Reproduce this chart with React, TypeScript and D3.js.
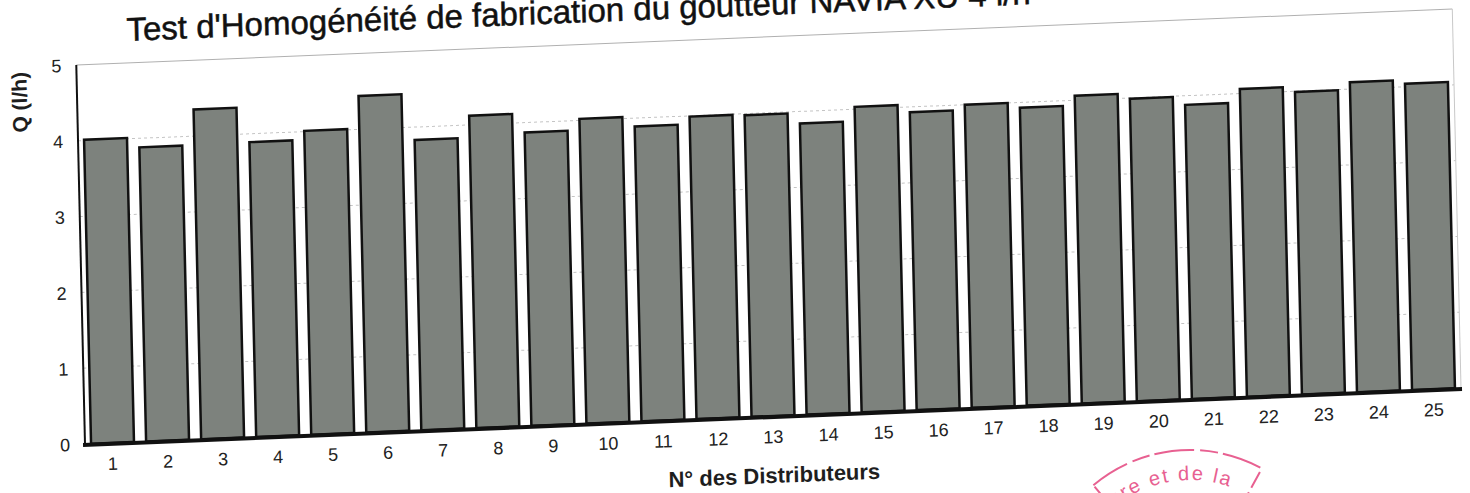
import React from 'react';
import * as d3 from 'd3';

// N° des distributeurs (goutteurs) and measured flow Q (l/h)
const distributeurs = ['1', '2', '3', '4', '5', '6', '7', '8', '9', '10', '11', '12', '13',
  '14', '15', '16', '17', '18', '19', '20', '21', '22', '23', '24', '25'];
const debits = [4.01, 3.88, 4.35, 3.89, 4.01, 4.44, 3.83, 4.12, 3.87, 4.02, 3.89, 3.99, 3.98,
  3.84, 4.03, 3.93, 4.0, 3.93, 4.06, 3.99, 3.88, 4.06, 3.99, 4.09, 4.04];
const yTicks = [0, 1, 2, 3, 4, 5];

const W = 1470;
const H = 493;
const x0 = 85;
const y0 = 444;
const plotW = 1376;
const plotH = 379;
const font = 'Liberation Sans, Arial, Helvetica, sans-serif';

// the page was scanned a little crooked
const skew = `translate(${x0},${y0}) matrix(1,-0.0407,0.023,1,0,0) translate(${-x0},${-y0})`;

const App: React.FC = () => {
  const x = d3.scaleBand<string>()
    .domain(distributeurs)
    .range([x0, x0 + plotW])
    .paddingInner(0.22)
    .paddingOuter(0.11);

  const y = d3.scaleLinear().domain([0, 5]).range([y0, y0 - plotH]);

  const stampArc = d3.arc()({ innerRadius: 0, outerRadius: 150, startAngle: -0.7, endAngle: 0.5 }) as string;
  const stampInner = d3.arc()({ innerRadius: 0, outerRadius: 100, startAngle: -0.25, endAngle: 0.35 }) as string;
  const stampPath = d3.arc()({ innerRadius: 0, outerRadius: 120, startAngle: -0.95, endAngle: 0.7 }) as string;

  return (
    <svg width={W} height={H} style={{ position: 'absolute', left: 0, top: 0, background: '#fff' }}>
      <g transform={skew}>
        <text x={136} y={43} fontFamily={font} fontSize={33} fill="#111" stroke="#111" strokeWidth={0.5}>
          Test d'Homogénéité de fabrication du goutteur NAVIA XU 4 l/h
        </text>

        {/* grid */}
        {yTicks.filter(t => t > 0 && t < 5).map(t => (
          <line key={t} x1={x0} x2={x0 + plotW} y1={y(t)} y2={y(t)}
            stroke="#c4c4c4" strokeWidth={1} strokeDasharray="3 3" />
        ))}
        <line x1={x0} x2={x0 + plotW} y1={y(5)} y2={y(5)} stroke="#b0b0b0" strokeWidth={1} />
        <line x1={x0 + plotW} x2={x0 + plotW} y1={y(0)} y2={y(5)} stroke="#c8c8c8" strokeWidth={1} />

        {/* bars */}
        {debits.map((v, i) => (
          <rect key={i}
            x={x(distributeurs[i])}
            y={y(v)}
            width={x.bandwidth()}
            height={y(0) - y(v)}
            fill="#7d827d"
            stroke="#111"
            strokeWidth={2.5} />
        ))}

        {/* axes */}
        <line x1={x0} x2={x0} y1={y(5)} y2={y(0)} stroke="#111" strokeWidth={2} />
        <line x1={x0 - 2} x2={x0 + plotW + 1} y1={y0 + 1} y2={y0 + 1} stroke="#111" strokeWidth={4} />

        {yTicks.map(t => (
          <text key={t} x={x0 - 15} y={y(t)} dy="0.36em" textAnchor="end"
            fontFamily={font} fontSize={18} fill="#222">{t}</text>
        ))}
        {distributeurs.map(d => (
          <text key={d} x={x(d)! + x.bandwidth() / 2} y={y0 + 27} textAnchor="middle"
            fontFamily={font} fontSize={18} fill="#222">{d}</text>
        ))}

        <text transform={`translate(35,100) rotate(-90)`} textAnchor="middle"
          fontFamily={font} fontSize={21} fontWeight="bold" fill="#1e1e1e">Q (l/h)</text>
        <text x={773} y={511} textAnchor="middle"
          fontFamily={font} fontSize={22} fontWeight="bold" fill="#1e1e1e">N° des Distributeurs</text>
      </g>

      {/* red stamp, partly visible */}
      <g transform="translate(1190,600)" fill="none" stroke="#e4457e" strokeWidth={2} opacity={0.85}>
        <path d={stampArc} strokeDasharray="40 6 18 5" style={{ fill: 'none' }} />
        <path d={stampInner} style={{ fill: 'none' }} />
        <path id="stampText" d={stampPath} stroke="none" style={{ fill: 'none' }} />
        <text fill="#e4457e" stroke="none" fontFamily={font} fontSize={20} letterSpacing={2}>
          <textPath href="#stampText" startOffset="1%">ulture et de la</textPath>
        </text>
      </g>
    </svg>
  );
};

export default App;
